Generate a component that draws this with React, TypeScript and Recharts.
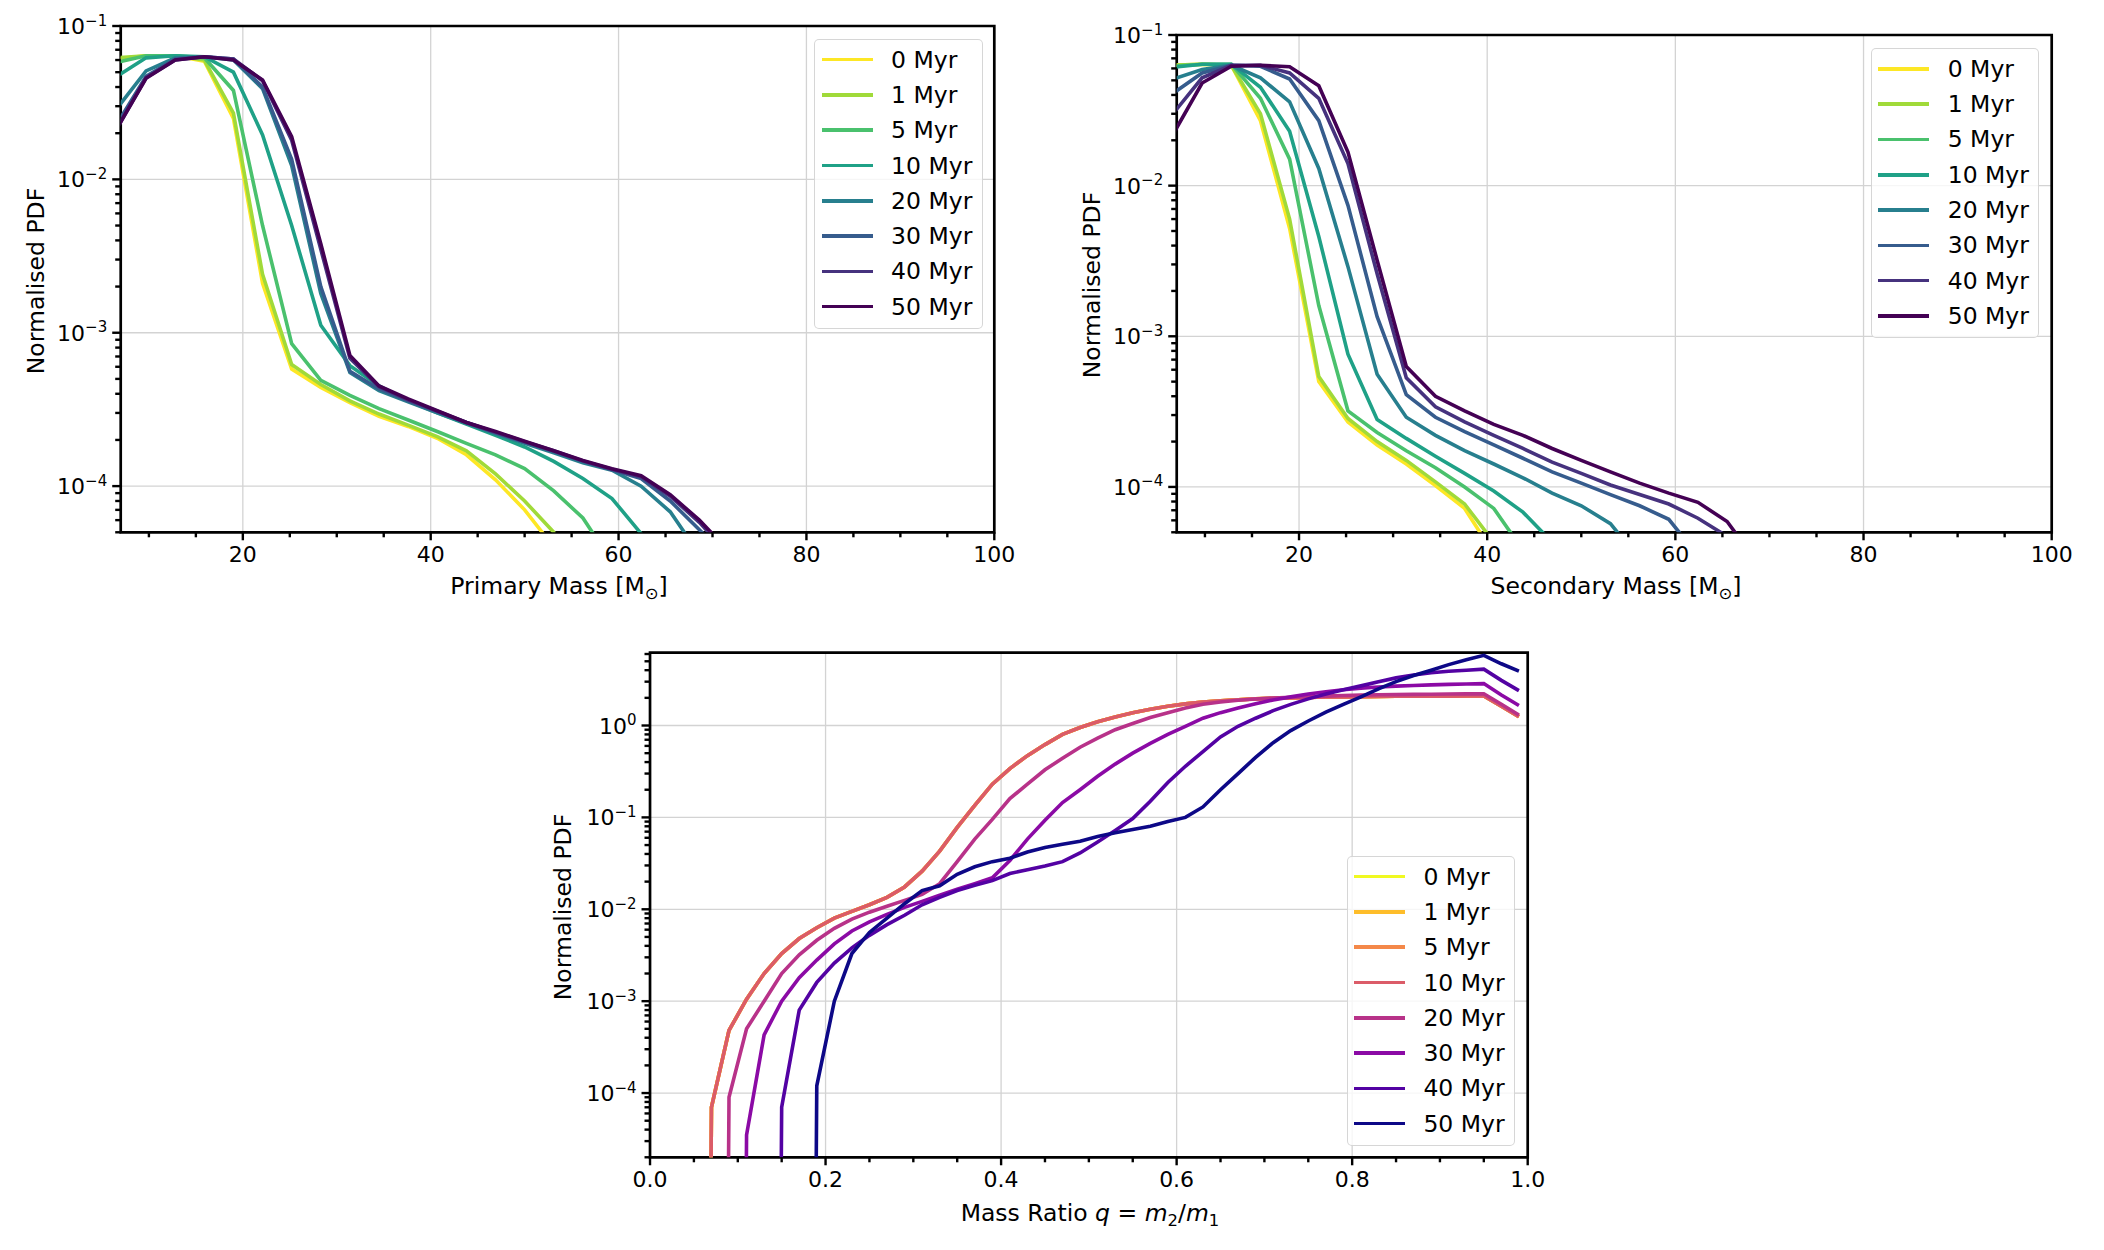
import React from "react";
import { LineChart, Line, XAxis, YAxis, CartesianGrid, ReferenceArea } from "recharts";

const FONT = "DejaVu Sans, sans-serif";
// an empty histogram bin: log axis sends it far below the frame, like matplotlib's clipping
const EMPTY = 1e-30;

const ages = ["0 Myr", "1 Myr", "5 Myr", "10 Myr", "20 Myr", "30 Myr", "40 Myr", "50 Myr"];
const viridisColors = ["#fde725", "#a0da39", "#4ac16d", "#1fa187", "#277f8e", "#365c8d", "#46327e", "#440154"];
const plasmaColors = ["#f0f921", "#febd2a", "#f48849", "#db5c68", "#b83289", "#8b0aa5", "#5302a3", "#0d0887"];

// ---- primary / secondary mass PDFs ----
const massBins = [6.6, 9.7, 12.8, 15.9, 19.0, 22.1, 25.2, 28.3, 31.4, 34.5, 37.6, 40.7, 43.8, 46.9, 50.0, 53.1, 56.2, 59.3, 62.4, 65.5, 68.6, 71.7];

const primary0 = [0.061, 0.064, 0.064, 0.059, 0.025, 2.1e-3, 5.8e-4, 4.4e-4, 3.5e-4, 2.85e-4, 2.45e-4, 2.05e-4, 1.6e-4, 1.1e-4, 7.0e-5, 4.0e-5, EMPTY, EMPTY, EMPTY, EMPTY, EMPTY, EMPTY];
const primary1 = [0.062, 0.064, 0.064, 0.06, 0.027, 2.4e-3, 6.2e-4, 4.6e-4, 3.6e-4, 2.95e-4, 2.5e-4, 2.1e-4, 1.7e-4, 1.2e-4, 8.0e-5, 5.0e-5, EMPTY, EMPTY, EMPTY, EMPTY, EMPTY, EMPTY];
const primary5 = [0.058, 0.064, 0.064, 0.062, 0.038, 5.0e-3, 8.5e-4, 4.9e-4, 3.9e-4, 3.2e-4, 2.7e-4, 2.27e-4, 1.9e-4, 1.6e-4, 1.3e-4, 9.3e-5, 6.2e-5, 3.2e-5, EMPTY, EMPTY, EMPTY, EMPTY];
const primary10 = [0.047, 0.062, 0.064, 0.063, 0.05, 0.0195, 5.0e-3, 1.12e-3, 6.1e-4, 4.5e-4, 3.6e-4, 3.0e-4, 2.54e-4, 2.14e-4, 1.8e-4, 1.45e-4, 1.12e-4, 8.3e-5, 4.9e-5, EMPTY, EMPTY, EMPTY];
const primary20 = [0.029, 0.051, 0.062, 0.063, 0.06, 0.039, 0.0123, 1.8e-3, 5.5e-4, 4.2e-4, 3.55e-4, 3.0e-4, 2.57e-4, 2.2e-4, 1.9e-4, 1.65e-4, 1.42e-4, 1.27e-4, 1.0e-4, 6.8e-5, 3.6e-5, EMPTY];
const primary30 = [0.023, 0.047, 0.061, 0.063, 0.061, 0.04, 0.0135, 2.0e-3, 5.6e-4, 4.3e-4, 3.6e-4, 3.05e-4, 2.6e-4, 2.23e-4, 1.93e-4, 1.68e-4, 1.45e-4, 1.28e-4, 1.12e-4, 8.0e-5, 5.2e-5, 3.3e-5];
const primary40 = [0.0215, 0.046, 0.06, 0.063, 0.061, 0.044, 0.018, 3.5e-3, 6.8e-4, 4.45e-4, 3.65e-4, 3.08e-4, 2.6e-4, 2.25e-4, 1.95e-4, 1.7e-4, 1.46e-4, 1.29e-4, 1.15e-4, 8.6e-5, 5.8e-5, 3.6e-5];
const primary50 = [0.0215, 0.0456, 0.06, 0.063, 0.06, 0.0445, 0.019, 3.8e-3, 7.1e-4, 4.5e-4, 3.7e-4, 3.1e-4, 2.6e-4, 2.27e-4, 1.96e-4, 1.7e-4, 1.47e-4, 1.3e-4, 1.17e-4, 8.8e-5, 6.0e-5, 3.8e-5];

const secondary0 = [0.063, 0.064, 0.063, 0.027, 5.2e-3, 5.0e-4, 2.7e-4, 1.9e-4, 1.42e-4, 1.02e-4, 7.2e-5, 3.6e-5, EMPTY, EMPTY, EMPTY, EMPTY, EMPTY, EMPTY, EMPTY, EMPTY, EMPTY, EMPTY];
const secondary1 = [0.063, 0.064, 0.063, 0.03, 6.0e-3, 5.4e-4, 2.85e-4, 2.0e-4, 1.5e-4, 1.08e-4, 7.7e-5, 4.3e-5, EMPTY, EMPTY, EMPTY, EMPTY, EMPTY, EMPTY, EMPTY, EMPTY, EMPTY, EMPTY];
const secondary5 = [0.062, 0.064, 0.064, 0.038, 0.015, 1.6e-3, 3.2e-4, 2.3e-4, 1.74e-4, 1.34e-4, 1.0e-4, 7.2e-5, 3.8e-5, EMPTY, EMPTY, EMPTY, EMPTY, EMPTY, EMPTY, EMPTY, EMPTY, EMPTY];
const secondary10 = [0.061, 0.064, 0.064, 0.045, 0.023, 4.6e-3, 7.6e-4, 2.8e-4, 2.1e-4, 1.6e-4, 1.23e-4, 9.4e-5, 6.8e-5, 4.3e-5, EMPTY, EMPTY, EMPTY, EMPTY, EMPTY, EMPTY, EMPTY, EMPTY];
const secondary20 = [0.051, 0.059, 0.063, 0.052, 0.036, 0.013, 2.9e-3, 5.6e-4, 2.9e-4, 2.2e-4, 1.74e-4, 1.42e-4, 1.15e-4, 9.1e-5, 7.5e-5, 5.7e-5, 3.3e-5, EMPTY, EMPTY, EMPTY, EMPTY, EMPTY];
const secondary30 = [0.041, 0.056, 0.063, 0.062, 0.051, 0.027, 7.4e-3, 1.35e-3, 4.1e-4, 2.9e-4, 2.33e-4, 1.9e-4, 1.55e-4, 1.26e-4, 1.06e-4, 8.9e-5, 7.5e-5, 6.1e-5, 3.5e-5, EMPTY, EMPTY, EMPTY];
const secondary40 = [0.03, 0.052, 0.063, 0.063, 0.056, 0.038, 0.014, 2.6e-3, 5.3e-4, 3.4e-4, 2.7e-4, 2.2e-4, 1.8e-4, 1.46e-4, 1.23e-4, 1.03e-4, 8.9e-5, 7.7e-5, 6.2e-5, 4.7e-5, EMPTY, EMPTY];
const secondary50 = [0.0219, 0.048, 0.062, 0.063, 0.0615, 0.046, 0.0167, 3.2e-3, 6.3e-4, 4.0e-4, 3.2e-4, 2.6e-4, 2.2e-4, 1.8e-4, 1.5e-4, 1.26e-4, 1.06e-4, 9.1e-5, 7.9e-5, 5.9e-5, 3.2e-5, EMPTY];

// ---- mass ratio PDFs ----
const ratioBins = [0.05, 0.07, 0.09, 0.11, 0.13, 0.15, 0.17, 0.19, 0.21, 0.23, 0.25, 0.27, 0.29, 0.31, 0.33, 0.35, 0.37, 0.39, 0.41, 0.43, 0.45, 0.47, 0.49, 0.51, 0.53, 0.55, 0.57, 0.59, 0.61, 0.63, 0.65, 0.67, 0.69, 0.71, 0.73, 0.75, 0.77, 0.79, 0.81, 0.83, 0.85, 0.87, 0.89, 0.91, 0.93, 0.95, 0.97, 0.99];

// 0, 1, 5 and 10 Myr lie on top of each other in the figure
const ratioEarly = [EMPTY, 7e-5, 4.8e-4, 1.05e-3, 2.0e-3, 3.3e-3, 4.8e-3, 6.3e-3, 8.0e-3, 9.5e-3, 0.0112, 0.0135, 0.0175, 0.026, 0.043, 0.078, 0.135, 0.23, 0.34, 0.47, 0.62, 0.8, 0.95, 1.1, 1.24, 1.38, 1.5, 1.62, 1.72, 1.8, 1.86, 1.91, 1.95, 1.98, 2.0, 2.02, 2.04, 2.05, 2.06, 2.07, 2.08, 2.08, 2.09, 2.09, 2.1, 2.1, 1.62, 1.25];
const ratio20 = [EMPTY, EMPTY, 9e-5, 5e-4, 1.0e-3, 2.0e-3, 3.2e-3, 4.6e-3, 6.2e-3, 7.8e-3, 9.3e-3, 0.0108, 0.0125, 0.0145, 0.019, 0.033, 0.058, 0.095, 0.16, 0.23, 0.33, 0.44, 0.58, 0.73, 0.9, 1.05, 1.22, 1.38, 1.55, 1.7, 1.8, 1.88, 1.94, 1.99, 2.03, 2.06, 2.09, 2.12, 2.14, 2.16, 2.17, 2.18, 2.19, 2.2, 2.21, 2.22, 1.7, 1.3];
const ratio30 = [EMPTY, EMPTY, EMPTY, 3.5e-5, 4.3e-4, 1.0e-3, 1.8e-3, 2.8e-3, 4.2e-3, 5.8e-3, 7.3e-3, 8.8e-3, 0.0105, 0.0122, 0.0142, 0.0165, 0.019, 0.022, 0.034, 0.058, 0.093, 0.145, 0.2, 0.28, 0.38, 0.5, 0.64, 0.8, 0.98, 1.2, 1.38, 1.55, 1.73, 1.9, 2.05, 2.2, 2.33, 2.45, 2.55, 2.62, 2.68, 2.73, 2.77, 2.8, 2.83, 2.86, 2.15, 1.65];
const ratio40 = [EMPTY, EMPTY, EMPTY, EMPTY, EMPTY, 7e-5, 8e-4, 1.6e-3, 2.6e-3, 3.8e-3, 5.2e-3, 6.8e-3, 8.6e-3, 0.0112, 0.0135, 0.016, 0.0183, 0.0205, 0.0245, 0.027, 0.0295, 0.033, 0.041, 0.054, 0.072, 0.097, 0.15, 0.24, 0.36, 0.52, 0.75, 0.98, 1.2, 1.45, 1.7, 1.95, 2.2, 2.45, 2.7, 3.0, 3.3, 3.55, 3.75, 3.9, 4.0, 4.1, 3.1, 2.4];
const ratio50 = [EMPTY, EMPTY, EMPTY, EMPTY, EMPTY, EMPTY, EMPTY, 1.2e-4, 1.0e-3, 3.3e-3, 5.6e-3, 8.0e-3, 0.0115, 0.016, 0.018, 0.024, 0.029, 0.033, 0.036, 0.042, 0.047, 0.051, 0.055, 0.062, 0.068, 0.074, 0.08, 0.09, 0.1, 0.13, 0.2, 0.3, 0.45, 0.65, 0.88, 1.12, 1.4, 1.7, 2.05, 2.5, 3.0, 3.5, 4.0, 4.6, 5.2, 5.8, 4.7, 3.9];

// ---- ticks ----
const massTicks = [20, 40, 60, 80, 100];
const massMinorTicks = [10, 15, 25, 30, 35, 45, 50, 55, 65, 70, 75, 85, 90, 95];
const ratioTicks = [0, 0.2, 0.4, 0.6, 0.8, 1.0];
const ratioMinorTicks = [0.05, 0.1, 0.15, 0.25, 0.3, 0.35, 0.45, 0.5, 0.55, 0.65, 0.7, 0.75, 0.85, 0.9, 0.95];
const massPdfTicks = [1e-4, 1e-3, 1e-2, 1e-1];
const ratioPdfTicks = [1e-4, 1e-3, 1e-2, 1e-1, 1];

const massDomain: [number, number] = [7.0, 100];
const massPdfDomain: [number, number] = [5e-5, 0.1];
const ratioDomain: [number, number] = [0, 1];
const ratioPdfDomain: [number, number] = [2e-5, 6.2];

const logMinorTicks = (lo: number, hi: number) => {
  const out: number[] = [];
  for (let e = -6; e <= 1; e++) {
    for (let m = 2; m <= 9; m++) {
      const v = m * Math.pow(10, e);
      if (v >= lo * 0.999 && v <= hi * 1.001) out.push(v);
    }
  }
  return out;
};

type Series = { name: string; color: string; values: number[] };

const PowerTick = (props: any) => {
  const { x, y, payload } = props;
  const exp = Math.round(Math.log10(payload.value));
  const sup = exp < 0 ? "\u2212" + Math.abs(exp) : String(exp);
  return (
    <text x={x} y={y + 8} textAnchor="end" fontFamily={FONT} fontSize={22} fill="#000">
      10
      <tspan dy={-8.5} fontSize={15}>
        {sup}
      </tspan>
    </text>
  );
};

// minor ticks: keep the tick line, draw no label
const NoLabel = () => <g />;

const tickStroke = { stroke: "#000", strokeWidth: 2.4 };
// axes take almost no room, so the margins alone place the plot frame
const THIN = 0.01;

function Panel(props: {
  width: number;
  height: number;
  margin: { top: number; right: number; bottom: number; left: number };
  bins: number[];
  series: Series[];
  xDomain: [number, number];
  xTicks: number[];
  xMinor: number[];
  xFormat: (v: number) => string;
  yDomain: [number, number];
  yTicks: number[];
}) {
  const { width, height, margin, bins, series, xDomain, xTicks, xMinor, xFormat, yDomain, yTicks } = props;
  const rows = bins.map((x, i) => {
    const row: Record<string, number> = { x };
    series.forEach((s, k) => {
      row[`s${k}`] = s.values[i];
    });
    return row;
  });
  const yMinor = logMinorTicks(yDomain[0], yDomain[1]);

  return (
    <LineChart width={width} height={height} margin={margin} data={rows}>
      <CartesianGrid stroke="#d3d3d3" strokeWidth={1.3} />
      <XAxis
        dataKey="x"
        type="number"
        domain={xDomain}
        allowDataOverflow
        ticks={xTicks}
        interval={0}
        height={THIN}
        tickSize={8}
        tickMargin={6}
        tickFormatter={xFormat}
        axisLine={false}
        tickLine={tickStroke}
        tick={{ fontSize: 22, fill: "#000", fontFamily: FONT }}
      />
      <XAxis
        xAxisId="minor"
        dataKey="x"
        type="number"
        domain={xDomain}
        allowDataOverflow
        ticks={xMinor}
        interval={0}
        height={THIN}
        tickSize={5}
        axisLine={false}
        tickLine={tickStroke}
        tick={NoLabel}
      />
      <YAxis
        type="number"
        scale="log"
        domain={yDomain}
        allowDataOverflow
        ticks={yTicks}
        interval={0}
        width={THIN}
        tickSize={8.5}
        tickMargin={5}
        axisLine={false}
        tickLine={tickStroke}
        tick={PowerTick}
      />
      <YAxis
        yAxisId="minor"
        type="number"
        scale="log"
        domain={yDomain}
        allowDataOverflow
        ticks={yMinor}
        interval={0}
        width={THIN}
        tickSize={5.5}
        axisLine={false}
        tickLine={tickStroke}
        tick={NoLabel}
      />
      {series.map((s, k) => (
        <Line
          key={s.name}
          type="linear"
          dataKey={`s${k}`}
          stroke={s.color}
          strokeWidth={3.6}
          dot={false}
          activeDot={false}
          isAnimationActive={false}
        />
      ))}
      <ReferenceArea
        x1={xDomain[0]}
        x2={xDomain[1]}
        y1={yDomain[0]}
        y2={yDomain[1]}
        fill="none"
        stroke="#000"
        strokeWidth={2.7}
        ifOverflow="visible"
      />
    </LineChart>
  );
}

function LegendBox({ left, top, series }: { left: number; top: number; series: Series[] }) {
  return (
    <div
      style={{
        position: "absolute",
        left,
        top,
        width: 168.4,
        height: 290,
        boxSizing: "border-box",
        border: "1.3px solid rgba(204,204,204,0.8)",
        borderRadius: 5,
        background: "rgba(255,255,255,0.8)",
      }}
    >
      {series.map((s, i) => (
        <div
          key={s.name}
          style={{ position: "absolute", left: 6.5, top: 19.6 + i * 35.3 - 15, height: 30, display: "flex", alignItems: "center" }}
        >
          <div style={{ width: 51, height: 3.6, background: s.color }} />
          <span style={{ marginLeft: 18.3, fontSize: 23.5, lineHeight: "30px", whiteSpace: "nowrap" }}>{s.name}</span>
        </div>
      ))}
    </div>
  );
}

const XLabel = ({ cx, cy, children }: { cx: number; cy: number; children: React.ReactNode }) => (
  <div
    style={{
      position: "absolute",
      left: cx - 300,
      top: cy - 15,
      width: 600,
      height: 30,
      lineHeight: "30px",
      textAlign: "center",
      fontSize: 23.5,
      whiteSpace: "nowrap",
    }}
  >
    {children}
  </div>
);

const YLabel = ({ cx, cy }: { cx: number; cy: number }) => (
  <div
    style={{
      position: "absolute",
      left: cx - 200,
      top: cy - 15,
      width: 400,
      height: 30,
      lineHeight: "30px",
      textAlign: "center",
      fontSize: 23.5,
      transform: "rotate(-90deg)",
      whiteSpace: "nowrap",
    }}
  >
    Normalised PDF
  </div>
);

const subStyle: React.CSSProperties = { fontSize: "0.7em", verticalAlign: "-0.3em", lineHeight: 0 };

export default function App() {
  const primary = [primary0, primary1, primary5, primary10, primary20, primary30, primary40, primary50];
  const secondary = [secondary0, secondary1, secondary5, secondary10, secondary20, secondary30, secondary40, secondary50];
  const ratio = [ratioEarly, ratioEarly, ratioEarly, ratioEarly, ratio20, ratio30, ratio40, ratio50];

  const primarySeries = ages.map((name, i) => ({ name, color: viridisColors[i], values: primary[i] }));
  const secondarySeries = ages.map((name, i) => ({ name, color: viridisColors[i], values: secondary[i] }));
  const ratioSeries = ages.map((name, i) => ({ name, color: plasmaColors[i], values: ratio[i] }));

  return (
    <div
      style={{
        position: "absolute",
        left: 0,
        top: 0,
        width: 2104,
        height: 1250,
        background: "#fff",
        fontFamily: FONT,
        color: "#000",
        overflow: "hidden",
      }}
    >
      <div style={{ position: "absolute", left: 0, top: 0 }}>
        <Panel
          width={1040}
          height={620}
          margin={{ top: 26, right: 45.7, bottom: 87.7, left: 120.7 }}
          bins={massBins}
          series={primarySeries}
          xDomain={massDomain}
          xTicks={massTicks}
          xMinor={massMinorTicks}
          xFormat={(v) => String(v)}
          yDomain={massPdfDomain}
          yTicks={massPdfTicks}
        />
      </div>
      <div style={{ position: "absolute", left: 1060, top: 0 }}>
        <Panel
          width={1040}
          height={620}
          margin={{ top: 35, right: 48.3, bottom: 87.7, left: 116.7 }}
          bins={massBins}
          series={secondarySeries}
          xDomain={massDomain}
          xTicks={massTicks}
          xMinor={massMinorTicks}
          xFormat={(v) => String(v)}
          yDomain={massPdfDomain}
          yTicks={massPdfTicks}
        />
      </div>
      <div style={{ position: "absolute", left: 540, top: 620 }}>
        <Panel
          width={1040}
          height={630}
          margin={{ top: 32.7, right: 52.3, bottom: 92.7, left: 110 }}
          bins={ratioBins}
          series={ratioSeries}
          xDomain={ratioDomain}
          xTicks={ratioTicks}
          xMinor={ratioMinorTicks}
          xFormat={(v) => v.toFixed(1)}
          yDomain={ratioPdfDomain}
          yTicks={ratioPdfTicks}
        />
      </div>

      <LegendBox left={814.3} top={39} series={primarySeries} />
      <LegendBox left={1870.9} top={48.3} series={secondarySeries} />
      <LegendBox left={1346.6} top={856} series={ratioSeries} />

      <XLabel cx={559} cy={586}>
        Primary Mass [M<sub style={subStyle}>⊙</sub>]
      </XLabel>
      <XLabel cx={1616} cy={586}>
        Secondary Mass [M<sub style={subStyle}>⊙</sub>]
      </XLabel>
      <XLabel cx={1090} cy={1213}>
        Mass Ratio <i>q</i> = <i>m</i>
        <sub style={subStyle}>2</sub>/<i>m</i>
        <sub style={subStyle}>1</sub>
      </XLabel>

      <YLabel cx={36} cy={281} />
      <YLabel cx={1092} cy={285} />
      <YLabel cx={563} cy={907} />
    </div>
  );
}
